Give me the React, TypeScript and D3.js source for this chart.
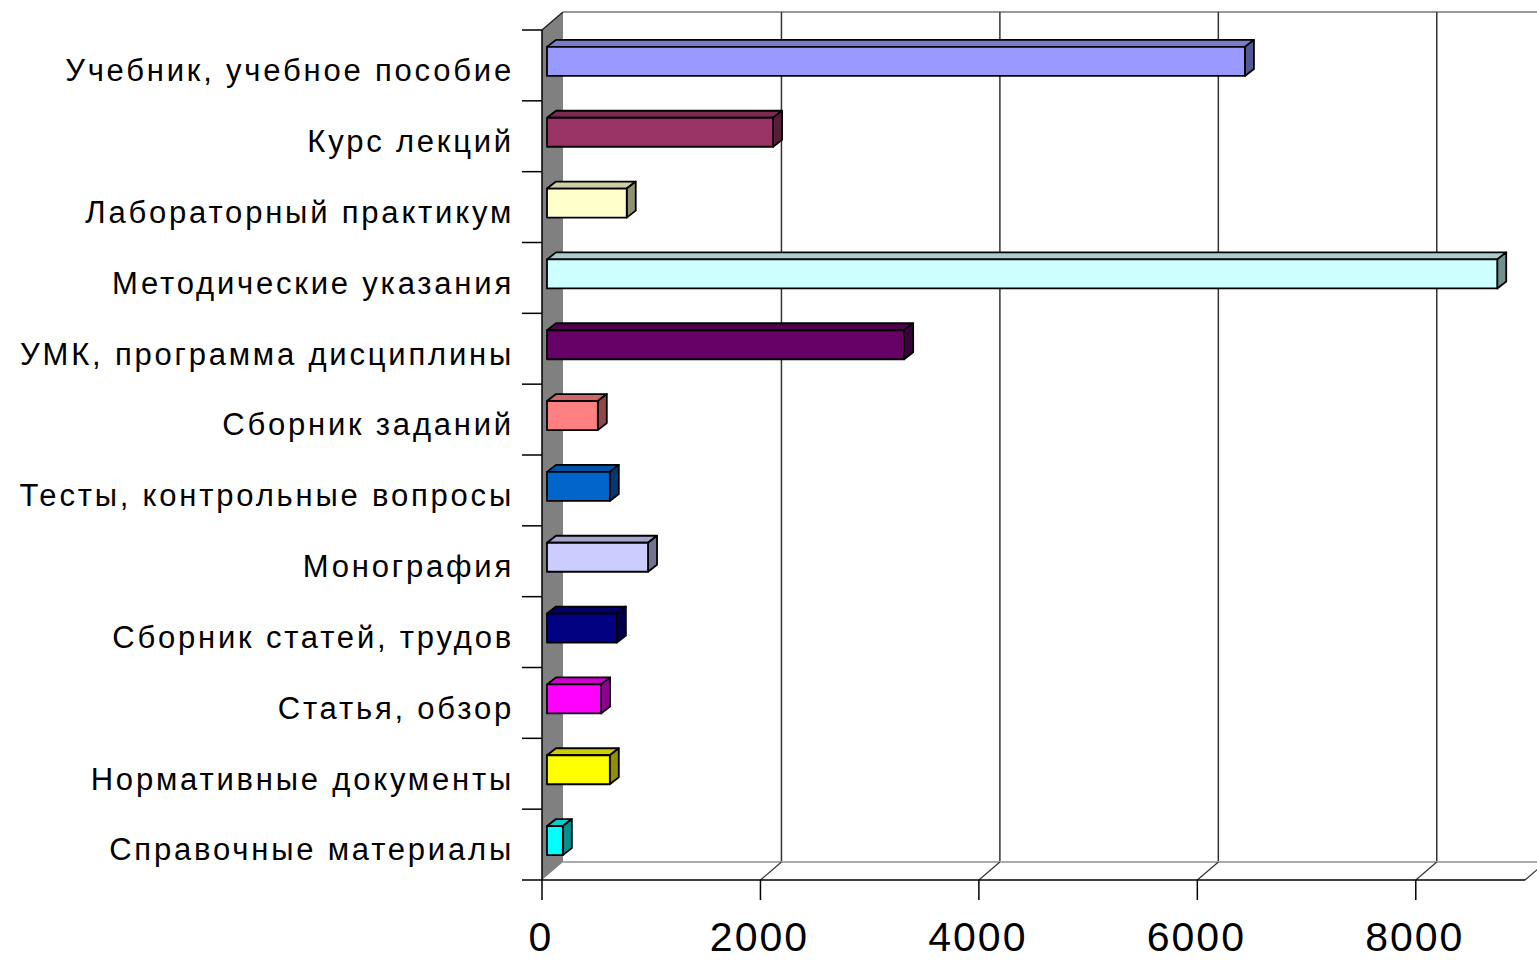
import React, { useEffect, useRef } from 'react';
import * as d3 from 'd3';

const categories = [
  'Учебник, учебное пособие',
  'Курс лекций',
  'Лабораторный практикум',
  'Методические указания',
  'УМК, программа дисциплины',
  'Сборник заданий',
  'Тесты, контрольные вопросы',
  'Монография',
  'Сборник статей, трудов',
  'Статья, обзор',
  'Нормативные документы',
  'Справочные материалы',
];
const values = [6390, 2070, 730, 8700, 3270, 465, 575, 925, 640, 495, 575, 145];
const colors = [
  '#9999FF', '#993366', '#FFFFCC', '#CCFFFF', '#660066', '#FF8080',
  '#0066CC', '#CCCCFF', '#000080', '#FF00FF', '#FFFF00', '#00FFFF',
];
const tickValues = [0, 2000, 4000, 6000, 8000];

export default function App() {
  const svgRef = useRef<SVGSVGElement | null>(null);

  useEffect(() => {
    const svg = d3.select(svgRef.current!);
    svg.selectAll('*').remove();

    const left = 542;
    const top = 30;
    const bottom = 880;
    // depth of the 3d box
    const dx = 21;
    const dy = -18;

    const x = d3.scaleLinear().domain([0, 9000]).range([left, left + 983]);
    const y = d3.scaleBand<string>().domain(categories).range([top, bottom]);

    // back wall gridlines
    const back = svg.append('g');
    back
      .append('line')
      .attr('x1', left + dx).attr('x2', x(9000) + dx)
      .attr('y1', top + dy).attr('y2', top + dy)
      .attr('stroke', '#999').attr('stroke-width', 2);
    back
      .selectAll('line.grid')
      .data(tickValues.slice(1))
      .join('line')
      .attr('class', 'grid')
      .attr('x1', (d) => x(d) + dx).attr('x2', (d) => x(d) + dx)
      .attr('y1', top + dy).attr('y2', bottom + dy)
      .attr('stroke', '#333').attr('stroke-width', 1.5);
    back
      .append('line')
      .attr('x1', left + dx).attr('x2', x(9000) + dx)
      .attr('y1', bottom + dy).attr('y2', bottom + dy)
      .attr('stroke', '#aaa').attr('stroke-width', 2);

    // floor depth lines
    back
      .selectAll('line.depth')
      .data([...tickValues.slice(1), 9000])
      .join('line')
      .attr('class', 'depth')
      .attr('x1', (d) => x(d)).attr('x2', (d) => x(d) + dx)
      .attr('y1', bottom).attr('y2', bottom + dy)
      .attr('stroke', '#333').attr('stroke-width', 1.2);

    // left side wall
    svg
      .append('polygon')
      .attr('points', [
        [left, top], [left + dx, top + dy], [left + dx, bottom + dy], [left, bottom],
      ].map((p) => p.join(',')).join(' '))
      .attr('fill', '#808080');
    svg
      .append('line')
      .attr('x1', left).attr('y1', top).attr('x2', left + dx).attr('y2', top + dy)
      .attr('stroke', '#222').attr('stroke-width', 1.5);

    // axes
    const ax = svg.append('g').attr('stroke', '#000').attr('stroke-width', 1.5);
    ax.append('line').attr('x1', left).attr('x2', left).attr('y1', top).attr('y2', bottom + 20);
    ax.append('line').attr('x1', left - 20).attr('x2', x(9000)).attr('y1', bottom).attr('y2', bottom);
    ax.selectAll('line.ytick')
      .data(d3.range(categories.length))
      .join('line')
      .attr('class', 'ytick')
      .attr('x1', left - 20).attr('x2', left)
      .attr('y1', (i) => top + i * y.step()).attr('y2', (i) => top + i * y.step());
    ax.selectAll('line.xtick')
      .data(tickValues.slice(1))
      .join('line')
      .attr('class', 'xtick')
      .attr('x1', (d) => x(d)).attr('x2', (d) => x(d))
      .attr('y1', bottom).attr('y2', bottom + 20);

    // bars
    const bx = 5;
    const by = -4;
    const bdx = 9;
    const bdy = -7;
    const bh = y.bandwidth() * 0.41;
    const bars = svg.append('g');
    categories.forEach((c, i) => {
      const col = d3.color(colors[i])!;
      const x0 = x(0) + bx;
      const x1 = x(values[i]) + bx;
      const yc = y(c)! + y.bandwidth() / 2 + by;
      const y0 = yc - bh / 2;
      const y1 = yc + bh / 2;
      const g = bars.append('g').attr('stroke', '#000').attr('stroke-width', 1.8).attr('stroke-linejoin', 'round');
      const pts = (a: number[][]) => a.map((p) => p.join(',')).join(' ');
      g.append('polygon')
        .attr('points', pts([[x0, y0], [x1, y0], [x1 + bdx, y0 + bdy], [x0 + bdx, y0 + bdy]]))
        .attr('fill', col.darker(0.6).toString());
      g.append('polygon')
        .attr('points', pts([[x1, y0], [x1 + bdx, y0 + bdy], [x1 + bdx, y1 + bdy], [x1, y1]]))
        .attr('fill', col.darker(1.6).toString());
      g.append('rect')
        .attr('x', x0).attr('y', y0).attr('width', x1 - x0).attr('height', y1 - y0)
        .attr('fill', colors[i]);
    });

    // labels
    svg.append('g')
      .selectAll('text')
      .data(categories)
      .join('text')
      .attr('x', 514)
      .attr('y', (d) => y(d)! + y.bandwidth() / 2 + 5)
      .attr('dy', '0.35em')
      .attr('text-anchor', 'end')
      .attr('font-family', '"Liberation Sans", Arial, sans-serif')
      .attr('font-size', 31)
      .attr('letter-spacing', 2.8)
      .attr('fill', '#000')
      .text((d) => d);

    svg.append('g')
      .selectAll('text')
      .data(tickValues)
      .join('text')
      .attr('x', (d) => x(d) - 1)
      .attr('y', 951)
      .attr('text-anchor', 'middle')
      .attr('font-family', '"Liberation Sans", Arial, sans-serif')
      .attr('font-size', 41)
      .attr('letter-spacing', 2)
      .attr('fill', '#000')
      .text((d) => String(d));
  }, []);

  return (
    <svg
      ref={svgRef}
      width={1537}
      height={960}
      style={{ position: 'absolute', left: 0, top: 0, background: '#fff' }}
    />
  );
}
